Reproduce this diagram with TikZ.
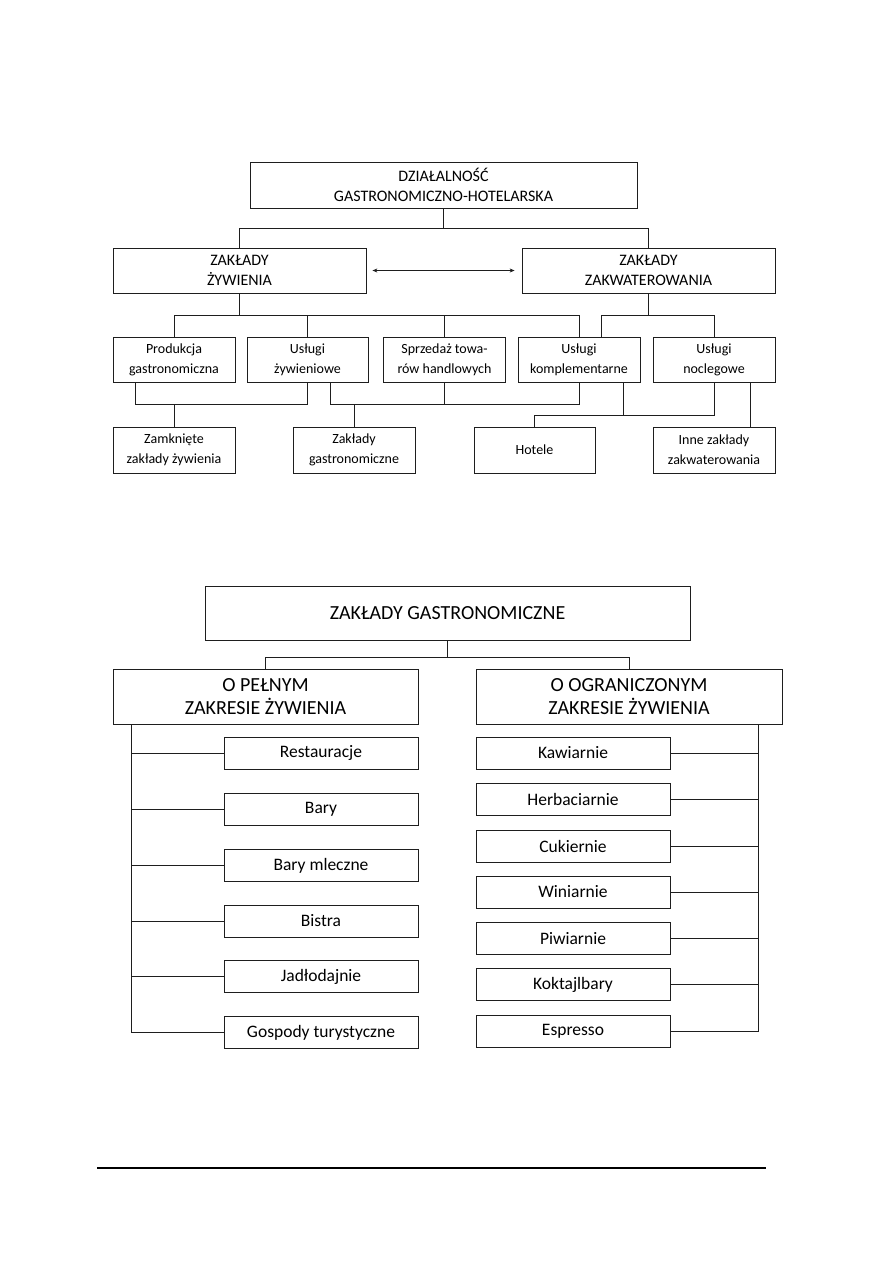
\documentclass[tikz,border=0pt]{standalone}
\usepackage{fontspec}
\setmainfont{Carlito}
\usetikzlibrary{arrows.meta}
\definecolor{LineGray}{RGB}{30,30,30}
\tikzset{
  box/.style={draw=LineGray,line width=0.8pt,align=center,inner sep=2pt,
              font=\fontsize{14}{20}\selectfont},
  capbox/.style={box,font=\fontsize{16}{20}\selectfont},
  bigcap/.style={box,font=\fontsize{20}{23}\selectfont},
  item/.style={box,minimum width=194pt,minimum height=32pt,
               font=\fontsize{17.5}{20}\selectfont},
  link/.style={draw=LineGray,line width=0.8pt}
}

\begin{document}
\begin{tikzpicture}[x=1pt,y=-1pt]
  \useasboundingbox (0,0) rectangle (893,1263);

  % upper chart
  \node[capbox,minimum width=387pt,minimum height=46pt] (dzial) at (443.5,185)
    {DZIAŁALNOŚĆ\\GASTRONOMICZNO-HOTELARSKA};
  \node[capbox,minimum width=253pt,minimum height=45pt] (zyw) at (239.5,270.5)
    {ZAKŁADY\\ŻYWIENIA};
  \node[capbox,minimum width=253pt,minimum height=45pt] (zakw) at (648.5,270.5)
    {ZAKŁADY\\ZAKWATEROWANIA};

  \node[box,minimum width=122pt,minimum height=45pt] (prod) at (174,359.5)
    {Produkcja\\gastronomiczna};
  \node[box,minimum width=121pt,minimum height=45pt] (usl) at (307.5,359.5)
    {Usługi\\żywieniowe};
  \node[box,minimum width=122pt,minimum height=45pt] (sprz) at (444.5,359.5)
    {Sprzedaż towa-\\rów handlowych};
  \node[box,minimum width=122pt,minimum height=45pt] (kompl) at (579,359.5)
    {Usługi\\komplementarne};
  \node[box,minimum width=122pt,minimum height=45pt] (nocl) at (714,359.5)
    {Usługi\\noclegowe};

  \node[box,minimum width=122pt,minimum height=46pt] (zamk) at (174,450)
    {Zamknięte\\zakłady żywienia};
  \node[box,minimum width=122pt,minimum height=46pt] (gastro) at (354,450)
    {Zakłady\\gastronomiczne};
  \node[box,minimum width=121pt,minimum height=46pt] (hotele) at (534.5,450)
    {Hotele};
  \node[box,minimum width=122pt,minimum height=46pt] (inne) at (714,450)
    {Inne zakłady\\zakwaterowania};

  \draw[link] (dzial.south) -- ++(0,20) -| (zyw.north);
  \draw[link] (dzial.south) -- ++(0,20) -| (zakw.north);
  \draw[link,{Stealth[length=5pt,width=4pt]}-{Stealth[length=5pt,width=4pt]},
        shorten <=6pt,shorten >=7pt] (zyw) -- (zakw);

  \draw[link] (zyw.south) -- ++(0,22) coordinate (l3);
  \draw[link] (prod.north) |- (l3) -| (kompl.north);
  \draw[link] (usl.north) -- (usl.north |- l3);
  \draw[link] (sprz.north) -- (sprz.north |- l3);
  \draw[link] (zakw.south) -- ++(0,22) coordinate (r3);
  \draw[link] ([xshift=22pt]kompl.north) |- (r3) -| (nocl.north);

  \draw[link] ([xshift=-39pt]prod.south) -- ++(0,22) coordinate (j1) -| (usl.south);
  \draw[link] (zamk.north) -- (zamk.north |- j1);
  \draw[link] ([xshift=23pt]usl.south) -- ++(0,22) coordinate (j2) -| (kompl.south);
  \draw[link] (sprz.south) -- (sprz.south |- j2);
  \draw[link] (gastro.north) -- (gastro.north |- j2);
  \draw[link] ([xshift=44pt]kompl.south) -- ++(0,33) coordinate (j3);
  \draw[link] (hotele.north) |- (j3) -| (nocl.south);
  \draw[link] ([xshift=36pt]nocl.south) -- ([xshift=36pt]inne.north);

  % lower chart
  \node[bigcap,minimum width=485pt,minimum height=54pt] (zg) at (447.5,613)
    {ZAKŁADY GASTRONOMICZNE};
  \node[bigcap,minimum width=305pt,minimum height=55pt] (pelny) at (265.5,696.5)
    {O PEŁNYM\\ZAKRESIE ŻYWIENIA};
  \node[bigcap,minimum width=306pt,minimum height=55pt] (ogr) at (629,696.5)
    {O OGRANICZONYM\\ZAKRESIE ŻYWIENIA};
  \draw[link] (zg.south) -- ++(0,17) coordinate (g2);
  \draw[link] (pelny.north) |- (g2) -| (ogr.north);

  \foreach \yy/\nm/\txt in {753/l1/Restauracje, 809/l2/Bary, 865.5/l3/Bary mleczne,
      921/l4/Bistra, 976.5/l5/Jadłodajnie, 1032.5/l6/Gospody turystyczne}
    \node[item] (\nm) at (321,\yy) {\txt};
  \foreach \yy/\nm/\txt in {753/r1/Kawiarnie, 799/r2/Herbaciarnie, 846/r3/Cukiernie,
      892/r4/Winiarnie, 938.5/r5/Piwiarnie, 984.5/r6/Koktajlbary, 1031.5/r7/Espresso}
    \node[item] (\nm) at (573,\yy) {\txt};

  \draw[link] ([xshift=19pt]pelny.south west) coordinate (ls) |- (l6.west);
  \foreach \nm in {l1,l2,l3,l4,l5}
    \draw[link] (\nm.west) -- (\nm.west -| ls);
  \draw[link] ([xshift=-24pt]ogr.south east) coordinate (rs) |- (r7.east);
  \foreach \nm in {r1,r2,r3,r4,r5,r6}
    \draw[link] (\nm.east) -- (\nm.east -| rs);

  % page rule
  \draw[line width=1.4pt] (97,1168) -- (766,1168);
\end{tikzpicture}
\end{document}
